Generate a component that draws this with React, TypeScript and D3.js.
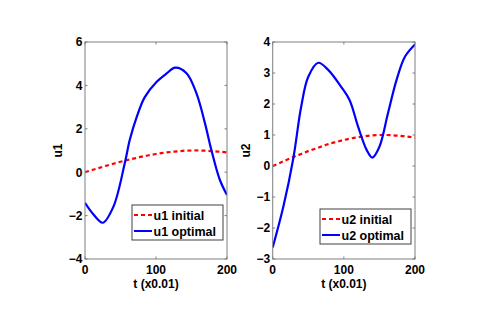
import React from 'react';
import * as d3 from 'd3';

// initial guess (both inputs share it), sampled every 10 steps
const tInit = [0, 10, 20, 30, 40, 50, 60, 70, 80, 90, 100, 110, 120, 130, 140, 150, 160, 170, 180, 190, 200];
const u1Initial = [0, 0.1, 0.2, 0.3, 0.39, 0.48, 0.56, 0.64, 0.72, 0.78, 0.84, 0.89, 0.93, 0.96, 0.99, 1.0, 1.0, 0.99, 0.97, 0.95, 0.91];
const u2Initial = [0, 0.1, 0.2, 0.3, 0.39, 0.48, 0.56, 0.64, 0.72, 0.78, 0.84, 0.89, 0.93, 0.96, 0.99, 1.0, 1.0, 0.99, 0.97, 0.95, 0.91];

// optimal controls
const tU1 = [0, 12, 25, 40, 56, 63, 73, 84, 101, 115, 127, 143, 157, 169, 178, 190, 200];
const u1Optimal = [-1.41, -1.95, -2.33, -1.59, 0.41, 1.48, 2.56, 3.45, 4.17, 4.55, 4.82, 4.56, 3.63, 2.25, 1.02, -0.36, -1.05];
const tU2 = [0, 15, 29, 40, 50, 64, 78, 96, 108, 120, 132, 140, 150, 162, 174, 186, 200];
const u2Optimal = [-2.63, -1.31, 0.25, 1.91, 2.88, 3.33, 3.1, 2.56, 2.13, 1.27, 0.52, 0.27, 0.62, 1.7, 2.77, 3.53, 3.92];

const xTicks = [0, 100, 200];
const u1Ticks = [-4, -2, 0, 2, 4, 6];
const u2Ticks = [-3, -2, -1, 0, 1, 2, 3, 4];

const FONT = '"Liberation Sans", Arial, Helvetica, sans-serif';

type PanelProps = {
  left: number;
  right: number;
  yDomain: [number, number];
  yTicks: number[];
  label: string;
  init: number[];
  tOpt: number[];
  opt: number[];
  legendX: number;
  legendY: number;
};

const Panel = ({ left, right, yDomain, yTicks, label, init, tOpt, opt, legendX, legendY }: PanelProps) => {
  const top = 42;
  const bottom = 259;
  const x = d3.scaleLinear().domain([0, 200]).range([left, right]);
  const y = d3.scaleLinear().domain(yDomain).range([bottom, top]);

  const line = d3
    .line<[number, number]>()
    .x((d) => x(d[0]))
    .y((d) => y(d[1]))
    .curve(d3.curveCatmullRom);

  const initPath = line(tInit.map((t, i) => [t, init[i]]));
  const optPath = line(tOpt.map((t, i) => [t, opt[i]]));

  const tick = 2.5;
  const legendW = 91;
  const legendH = 35;

  return (
    <g>
      <rect x={left} y={top} width={right - left} height={bottom - top} fill="#fff" />
      <defs>
        <clipPath id={`clip-${label}`}>
          <rect x={left} y={top} width={right - left} height={bottom - top} />
        </clipPath>
      </defs>
      <g clipPath={`url(#clip-${label})`}>
        <path d={initPath ?? ''} fill="none" stroke="#ff0000" strokeWidth={2.2} strokeDasharray="4,3" />
        <path d={optPath ?? ''} fill="none" stroke="#0000ff" strokeWidth={2.2} />
      </g>
      <rect x={left} y={top} width={right - left} height={bottom - top} fill="none" stroke="#7f7f7f" strokeWidth={1} />
      {xTicks.map((t) => (
        <g key={`x${t}`}>
          <line x1={x(t)} x2={x(t)} y1={bottom} y2={bottom - tick} stroke="#7f7f7f" />
          <line x1={x(t)} x2={x(t)} y1={top} y2={top + tick} stroke="#7f7f7f" />
          <text x={x(t)} y={274} textAnchor="middle" fontSize={12} fontWeight="bold" fontFamily={FONT}>
            {t}
          </text>
        </g>
      ))}
      {yTicks.map((v) => (
        <g key={`y${v}`}>
          <line x1={left} x2={left + tick} y1={y(v)} y2={y(v)} stroke="#7f7f7f" />
          <line x1={right} x2={right - tick} y1={y(v)} y2={y(v)} stroke="#7f7f7f" />
          <text x={left - 2.5} y={y(v) + 4.3} textAnchor="end" fontSize={12} fontWeight="bold" fontFamily={FONT}>
            {v < 0 ? `\u2212${-v}` : v}
          </text>
        </g>
      ))}
      <text x={(left + right) / 2} y={287.5} textAnchor="middle" fontSize={12} fontWeight="bold" fontFamily={FONT}>
        t (x0.01)
      </text>
      <text
        transform={`translate(${left - 23},${(top + bottom) / 2}) rotate(-90)`}
        textAnchor="middle"
        fontSize={12}
        fontWeight="bold"
        fontFamily={FONT}
      >
        {label}
      </text>
      <g transform={`translate(${legendX},${legendY})`}>
        <rect width={legendW} height={legendH} fill="#fff" stroke="#404040" strokeWidth={1} />
        <line x1={2} x2={20} y1={10} y2={10} stroke="#ff0000" strokeWidth={2} strokeDasharray="4,3" />
        <line x1={2} x2={20} y1={26} y2={26} stroke="#0000ff" strokeWidth={2} />
        <text x={21.5} y={14.5} fontSize={12.5} fontWeight="bold" fontFamily={FONT}>
          {label} initial
        </text>
        <text x={21.5} y={30.5} fontSize={12.5} fontWeight="bold" fontFamily={FONT}>
          {label} optimal
        </text>
      </g>
    </g>
  );
};

const App = () => (
  <svg width={485} height={319} style={{ position: 'absolute', left: 0, top: 0, background: '#fff' }}>
    <rect width={485} height={319} fill="#fff" />
    <Panel
      left={85}
      right={227}
      yDomain={[-4, 6]}
      yTicks={u1Ticks}
      label="u1"
      init={u1Initial}
      tOpt={tU1}
      opt={u1Optimal}
      legendX={132}
      legendY={205}
    />
    <Panel
      left={272.7}
      right={415}
      yDomain={[-3, 4]}
      yTicks={u2Ticks}
      label="u2"
      init={u2Initial}
      tOpt={tU2}
      opt={u2Optimal}
      legendX={320}
      legendY={209}
    />
  </svg>
);

export default App;
